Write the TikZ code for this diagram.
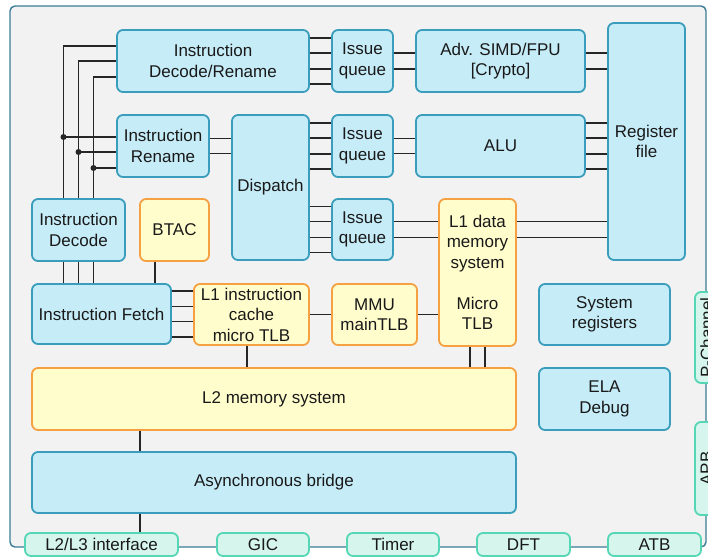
\documentclass[tikz,border=0pt]{standalone}
\usepackage{fontspec}
\setmainfont{Liberation Sans}
\usetikzlibrary{calc}
\definecolor{frame}{HTML}{3B7C94}
\definecolor{bgfill}{HTML}{F2F2F2}
\definecolor{cpu}{HTML}{3A9DBB}
\definecolor{cpufill}{HTML}{C6ECF7}
\definecolor{mem}{HTML}{F5A142}
\definecolor{memfill}{HTML}{FFFDCC}
\definecolor{port}{HTML}{55D6B5}
\definecolor{portfill}{HTML}{D6F5EC}
\definecolor{wirecol}{HTML}{262626}

\begin{document}
\begin{tikzpicture}[x=1pt, y=-1pt,
    layer/.style={rectangle, rounded corners=6pt, draw=#1, fill=#1fill,
                  line width=1.8pt, inner sep=0pt, align=center,
                  font=\fontsize{17}{20.5}\selectfont, text=black!90},
    tab/.style={layer=port, minimum height=23pt},
    wire/.style={line width=1.9pt, wirecol}
]
\useasboundingbox (0,0) rectangle (708,557);
\draw[frame, fill=bgfill, line width=1.4pt, rounded corners=5pt] (10,6) rectangle (706,547);

% front end
\node[layer=cpu, minimum width=192pt, minimum height=62pt] (idr) at (213,61) {Instruction\\Decode/Rename};
\node[layer=cpu, minimum width=92pt, minimum height=62pt] (iren) at (163,146) {Instruction\\Rename};
\node[layer=cpu, minimum width=93pt, minimum height=62pt] (idec) at (78.5,230) {Instruction\\Decode};
\node[layer=mem, minimum width=69pt, minimum height=62pt] (btac) at (174.5,230) {BTAC};
\node[layer=cpu, minimum width=139pt, minimum height=60pt] (ifetch) at (101.5,314) {Instruction Fetch};
\node[layer=mem, minimum width=115pt, minimum height=61pt] (l1i) at (251.5,314.5) {L1 instruction\\cache\\micro TLB};
\node[layer=mem, minimum width=85pt, minimum height=61pt] (mmu) at (374.5,314.5) {MMU\\mainTLB};

% issue and execute
\node[layer=cpu, minimum width=77pt, minimum height=145pt] (disp) at (270.5,187.5) {Dispatch};
\node[layer=cpu, minimum width=61pt, minimum height=62pt] (iq1) at (362.5,61) {Issue\\queue};
\node[layer=cpu, minimum width=61pt, minimum height=62pt] (iq2) at (362.5,146) {Issue\\queue};
\node[layer=cpu, minimum width=61pt, minimum height=61pt] (iq3) at (362.5,229.5) {Issue\\queue};
\node[layer=cpu, minimum width=169pt, minimum height=62pt] (simd) at (500.5,61) {Adv. SIMD/FPU\\{[Crypto]}};
\node[layer=cpu, minimum width=169pt, minimum height=62pt] (alu) at (500.5,146) {ALU};
\node[layer=mem, minimum width=77pt, minimum height=147pt] (l1d) at (477.5,272.5) {L1 data\\memory\\system\\[20.5pt]Micro\\TLB};
\node[layer=cpu, minimum width=77pt, minimum height=237pt] (regf) at (646.5,141.5) {Register\\file};

% memory and system
\node[layer=cpu, minimum width=131pt, minimum height=61pt] (sysreg) at (604.5,314.5) {System\\registers};
\node[layer=mem, minimum width=484pt, minimum height=62pt] (l2) at (274,399) {L2 memory system};
\node[layer=cpu, minimum width=131pt, minimum height=62pt] (ela) at (604.5,399) {ELA\\Debug};
\node[layer=cpu, minimum width=484pt, minimum height=61pt] (abr) at (274,482.5) {Asynchronous bridge};

% interfaces
\node[tab, minimum width=153pt] (l2l3) at (101.5,544.5) {L2/L3 interface};
\node[tab, minimum width=92pt] (gic) at (263,544.5) {GIC};
\node[tab, minimum width=92pt] (timer) at (393,544.5) {Timer};
\node[tab, minimum width=93pt] (dft) at (523.5,544.5) {DFT};
\node[tab, minimum width=93pt] (atb) at (654.5,544.5) {ATB};
\node[tab, rotate=90, minimum width=91pt] (pch) at (706.5,337.5) {P-Channel};
\node[tab, rotate=90, minimum width=93pt] (apb) at (706.5,468.5) {APB};

% fetch/decode buses
\foreach \dx/\ya/\yb in {-15/15/9, 0/0/-6, 15/-16/-22}{
  \path ([xshift=\dx pt]idec.north) coordinate (a)
        ([yshift=\ya pt]idr.west) coordinate (b)
        ([yshift=\yb pt]iren.west) coordinate (c);
  \draw[wire] (a) |- (b);
  \draw[wire] (a |- c) -- (c);
  \fill[wirecol] (a |- c) circle (3pt);
  \draw[wire] ([xshift=\dx pt]idec.south) -- ([xshift=\dx pt]idec.south |- ifetch.north);
}
\path ([xshift=-19.5pt]btac.south) coordinate (t);
\draw[wire] (t) -- (t |- ifetch.north);

% pipeline
\foreach \d in {-23,-8,8,23}
  \draw[wire] ([yshift=\d pt]idr.east) -- ([yshift=\d pt]iq1.west);
\foreach \d in {-8,8}
  \draw[wire] ([yshift=\d pt]iq1.east) -- ([yshift=\d pt]simd.west);
\foreach \d in {-8,8}{
  \path ([yshift=\d pt]simd.east) coordinate (t);
  \draw[wire] (t) -- (t -| regf.west);
}
\foreach \d in {-7.5,7.5}{
  \path ([yshift=\d pt]iren.east) coordinate (t);
  \draw[wire] (t) -- (t -| disp.west);
}
\foreach \d in {-23,-8,8,23}{
  \path ([yshift=\d pt]iq2.west) coordinate (t);
  \draw[wire] (t -| disp.east) -- (t);
  \path ([yshift=\d pt]alu.east) coordinate (t);
  \draw[wire] (t) -- (t -| regf.west);
  \path ([yshift=\d pt]iq3.west) coordinate (t);
  \draw[wire] (t -| disp.east) -- (t);
}
\foreach \d in {-7.5,7.5}
  \draw[wire] ([yshift=\d pt]iq2.east) -- ([yshift=\d pt]alu.west);
\foreach \d in {-8,8}{
  \path ([yshift=\d pt]iq3.east) coordinate (t);
  \draw[wire] (t) -- (t -| l1d.west);
  \draw[wire] (t -| l1d.east) -- (t -| regf.west);
}

% memory side
\foreach \d in {-23,-7.5,7.5,23}{
  \path ([yshift=\d pt]ifetch.east) coordinate (t);
  \draw[wire] (t) -- (t -| l1i.west);
}
\draw[wire] (l1i) -- (mmu);
\draw[wire] (mmu.east) -- (mmu.east -| l1d.west);
\draw[wire] ([xshift=-4.5pt]l1i.south) -- ([xshift=-4.5pt]l1i.south |- l2.north);
\foreach \d in {-7.5,7.5}
  \draw[wire] ([xshift=\d pt]l1d.south) -- ([xshift=\d pt]l1d.south |- l2.north);
\coordinate (drop) at (140,0);
\draw[wire] (l2.south -| drop) -- (abr.north -| drop);
\draw[wire] (abr.south -| drop) -- (l2l3.north -| drop);
\end{tikzpicture}
\end{document}
